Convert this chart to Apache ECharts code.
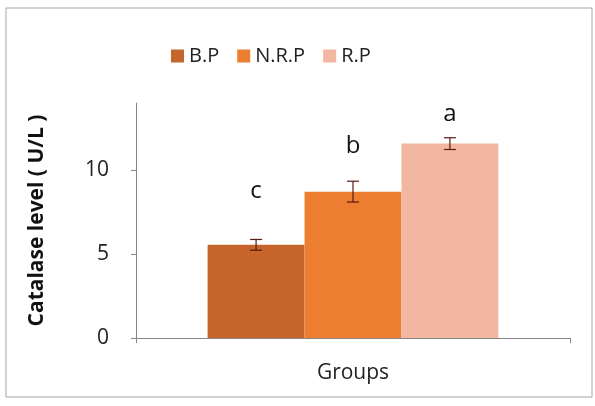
<!DOCTYPE html>
<html><head><meta charset="utf-8">
<script src="https://cdn.jsdelivr.net/npm/echarts@6/dist/echarts.min.js"></script>
<style>html,body{margin:0;padding:0;background:#fff}#c{width:595px;height:406px}</style>
</head><body><div id="c"></div>
<script>
const categories = ['Groups'];
const seriesNames = ['B.P', 'N.R.P', 'R.P'];
const means = [5.55, 8.72, 11.58];
const errors = [0.32, 0.62, 0.35];
const letters = ['c', 'b', 'a'];
const letterLevels = [8.75, 11.45, 13.35];
const yTicks = [0, 5, 10];
const colors = ['#c5652b', '#ed7d31', '#f2b7a0'];

const FONT = 'Open Sans';
const catGapPct = 33;
const chart = echarts.init(document.getElementById('c'), null, {renderer: 'canvas'});

const barSeries = seriesNames.map((n, i) => ({
  name: n, type: 'bar', data: [means[i]], barGap: '0%', barCategoryGap: catGapPct + '%',
  itemStyle: {color: colors[i]}, z: 2
}));

const errData = seriesNames.map((n, i) => [0, means[i], errors[i], i, letterLevels[i]]);
const errSeries = {
  type: 'custom', name: 'err', data: errData, z: 5, silent: true,
  renderItem: function (params, api) {
    const idx = api.value(3);
    const band = api.size([1, 0])[0];
    const bw = band * (1 - catGapPct / 100) / seriesNames.length;
    const center = api.coord([api.value(0), 0])[0];
    const x = center + (idx - (seriesNames.length - 1) / 2) * bw;
    const m = api.value(1), e = api.value(2);
    const yT = api.coord([0, m + e])[1];
    const yB = api.coord([0, m - e])[1];
    const yL = api.coord([0, api.value(4)])[1];
    const cap = 6;
    const st = {stroke: '#5a1a14', lineWidth: 1.2};
    return {type: 'group', children: [
      {type: 'line', shape: {x1: x, y1: yT, x2: x, y2: yB}, style: st},
      {type: 'line', shape: {x1: x - cap, y1: yT, x2: x + cap, y2: yT}, style: st},
      {type: 'line', shape: {x1: x - cap, y1: yB, x2: x + cap, y2: yB}, style: st},
      {type: 'text', x: x, y: yL, style: {text: letters[idx], fill: '#111', font: '24px "' + FONT + '"', align: 'center', verticalAlign: 'middle'}}
    ]};
  }
};

chart.setOption({
  animation: false,
  textStyle: {fontFamily: FONT},
  graphic: [{type: 'rect', shape: {x: 6, y: 8, width: 586, height: 389}, style: {fill: 'none', stroke: '#a6a6a6', lineWidth: 1}, silent: true, z: -1}],
  legend: {
    data: seriesNames, left: 166, top: 41, itemWidth: 13, itemHeight: 13, itemGap: 18,
    icon: 'rect', textStyle: {fontSize: 20, color: '#222', fontFamily: FONT}
  },
  grid: {left: 136, right: 25, top: 103, bottom: 68, containLabel: false},
  xAxis: {
    type: 'category', data: categories,
    axisLine: {lineStyle: {color: '#868686'}},
    axisTick: {show: true, length: 5, lineStyle: {color: '#868686'}},
    axisLabel: {fontSize: 21, color: '#222', margin: 25, fontFamily: FONT}
  },
  yAxis: {
    type: 'value', min: 0, max: 14, interval: 5,
    name: 'Catalase level ( U/L )', nameLocation: 'middle', nameGap: 88, nameRotate: 90,
    nameTextStyle: {fontSize: 21, fontWeight: 'bold', color: '#111', fontFamily: FONT},
    axisLine: {show: true, lineStyle: {color: '#868686'}},
    axisTick: {show: true, length: 5, customValues: yTicks, lineStyle: {color: '#868686'}},
    axisLabel: {fontSize: 21, color: '#222', margin: 27, customValues: yTicks, fontFamily: FONT},
    splitLine: {show: false}
  },
  series: [...barSeries, errSeries]
});
</script></body></html>
